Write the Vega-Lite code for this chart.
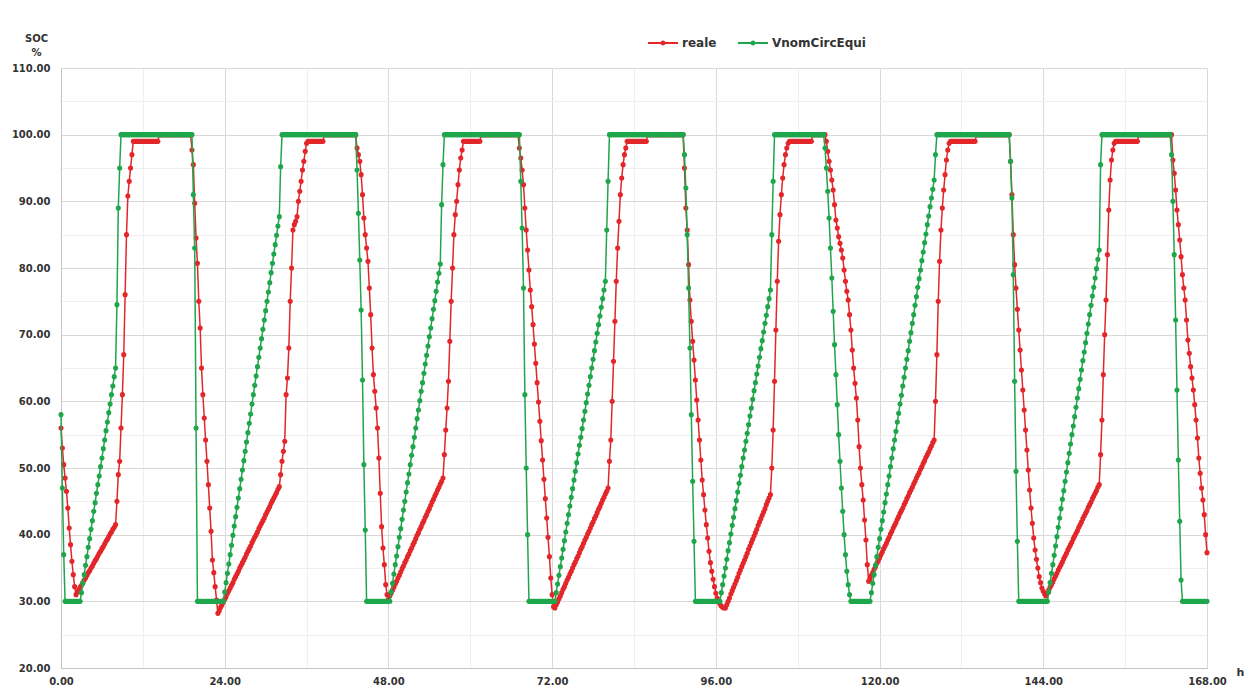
{
"$schema":"https://vega.github.io/schema/vega-lite/v6.json",
"autosize":"none",
"width":1146,"height":600,
"padding":{"left":61,"top":68,"right":45,"bottom":19},
"background":"white",
"config":{"view":{"stroke":null},"font":"DejaVu Sans"},
"data":{"values":[
{"t":0,"r":56,"g":58},{"t":0.2,"r":53,"g":47},{"t":0.4,"r":50.5,"g":37},{"t":0.6,"r":48.5,"g":30},{"t":0.8,"r":46.5,"g":30},{"t":1,"r":44,"g":30},{"t":1.2,"r":41,"g":30},{"t":1.4,"r":38.5,"g":30},{"t":1.6,"r":36,"g":30},{"t":1.8,"r":34,"g":30},{"t":2,"r":32.2,"g":30},{"t":2.2,"r":31,"g":30},{"t":2.4,"r":31.4,"g":30},{"t":2.6,"r":31.7,"g":30},{"t":2.8,"r":32.1,"g":30},
{"t":3,"r":32.4,"g":31.3},{"t":3.2,"r":32.8,"g":32.7},{"t":3.4,"r":33.2,"g":34},{"t":3.6,"r":33.5,"g":35.4},{"t":3.8,"r":33.9,"g":36.7},{"t":4,"r":34.3,"g":38.1},{"t":4.2,"r":34.6,"g":39.4},{"t":4.4,"r":35,"g":40.8},{"t":4.6,"r":35.3,"g":42.1},{"t":4.8,"r":35.7,"g":43.5},{"t":5,"r":36.1,"g":44.8},{"t":5.2,"r":36.4,"g":46.2},{"t":5.4,"r":36.8,"g":47.5},{"t":5.6,"r":37.2,"g":48.8},{"t":5.8,"r":37.5,"g":50.2},{"t":6,"r":37.9,"g":51.5},{"t":6.2,"r":38.2,"g":52.9},{"t":6.4,"r":38.6,"g":54.2},{"t":6.6,"r":39,"g":55.6},{"t":6.8,"r":39.3,"g":56.9},{"t":7,"r":39.7,"g":58.3},{"t":7.2,"r":40.1,"g":59.6},{"t":7.4,"r":40.4,"g":61},{"t":7.6,"r":40.8,"g":62.3},{"t":7.8,"r":41.1,"g":63.7},{"t":8,"r":41.5,"g":65},
{"t":8.2,"r":45,"g":74.5},{"t":8.4,"r":49,"g":89},{"t":8.6,"r":51,"g":95},{"t":8.8,"r":56,"g":100},{"t":9,"r":61,"g":100},{"t":9.2,"r":67,"g":100},{"t":9.4,"r":76,"g":100},{"t":9.6,"r":85,"g":100},{"t":9.8,"r":90.8,"g":100},{"t":10,"r":93,"g":100},{"t":10.2,"r":95,"g":100},{"t":10.4,"r":97,"g":100},
{"t":10.6,"r":99,"g":100},{"t":10.8,"r":99,"g":100},{"t":11,"r":99,"g":100},{"t":11.2,"r":99,"g":100},{"t":11.4,"r":99,"g":100},{"t":11.6,"r":99,"g":100},{"t":11.8,"r":99,"g":100},{"t":12,"r":99,"g":100},{"t":12.2,"r":99,"g":100},{"t":12.4,"r":99,"g":100},{"t":12.6,"r":99,"g":100},{"t":12.8,"r":99,"g":100},{"t":13,"r":99,"g":100},{"t":13.2,"r":99,"g":100},{"t":13.4,"r":99,"g":100},{"t":13.6,"r":99,"g":100},{"t":13.8,"r":99,"g":100},{"t":14,"r":99,"g":100},{"t":14.2,"r":99,"g":100},
{"t":14.4,"r":100,"g":100},{"t":14.6,"r":100,"g":100},{"t":14.8,"r":100,"g":100},{"t":15,"r":100,"g":100},{"t":15.2,"r":100,"g":100},{"t":15.4,"r":100,"g":100},{"t":15.6,"r":100,"g":100},{"t":15.8,"r":100,"g":100},{"t":16,"r":100,"g":100},{"t":16.2,"r":100,"g":100},{"t":16.4,"r":100,"g":100},{"t":16.6,"r":100,"g":100},{"t":16.8,"r":100,"g":100},{"t":17,"r":100,"g":100},{"t":17.2,"r":100,"g":100},{"t":17.4,"r":100,"g":100},{"t":17.6,"r":100,"g":100},{"t":17.8,"r":100,"g":100},{"t":18,"r":100,"g":100},{"t":18.2,"r":100,"g":100},{"t":18.4,"r":100,"g":100},{"t":18.6,"r":100,"g":100},{"t":18.8,"r":100,"g":100},{"t":19,"r":100,"g":100},
{"t":19.2,"r":97.7,"g":100},{"t":19.4,"r":95.5,"g":91},{"t":19.6,"r":89.7,"g":83},{"t":19.8,"r":84.5,"g":56},{"t":20,"r":80.7,"g":30},{"t":20.2,"r":75,"g":30},{"t":20.4,"r":71,"g":30},{"t":20.6,"r":65,"g":30},{"t":20.8,"r":61,"g":30},{"t":21,"r":57.5,"g":30},{"t":21.2,"r":54.2,"g":30},{"t":21.4,"r":51,"g":30},{"t":21.6,"r":47.5,"g":30},{"t":21.8,"r":44,"g":30},{"t":22,"r":40.5,"g":30},{"t":22.2,"r":36.2,"g":30},{"t":22.4,"r":34.3,"g":30},{"t":22.6,"r":32.2,"g":30},{"t":22.8,"r":30.2,"g":30},{"t":23,"r":28.2,"g":30},{"t":23.2,"r":28.6,"g":30},{"t":23.4,"r":29.1,"g":30},{"t":23.6,"r":29.5,"g":30},{"t":23.8,"r":29.9,"g":30},
{"t":24,"r":30.3,"g":31.4},{"t":24.2,"r":30.7,"g":32.8},{"t":24.4,"r":31.2,"g":34.2},{"t":24.6,"r":31.6,"g":35.6},{"t":24.8,"r":32,"g":37},{"t":25,"r":32.4,"g":38.4},{"t":25.2,"r":32.8,"g":39.9},{"t":25.4,"r":33.3,"g":41.3},{"t":25.6,"r":33.7,"g":42.7},{"t":25.8,"r":34.1,"g":44.1},{"t":26,"r":34.5,"g":45.5},{"t":26.2,"r":35,"g":46.9},{"t":26.4,"r":35.4,"g":48.3},{"t":26.6,"r":35.8,"g":49.7},{"t":26.8,"r":36.2,"g":51.1},{"t":27,"r":36.6,"g":52.5},{"t":27.2,"r":37.1,"g":53.9},{"t":27.4,"r":37.5,"g":55.3},{"t":27.6,"r":37.9,"g":56.7},{"t":27.8,"r":38.3,"g":58.1},{"t":28,"r":38.8,"g":59.6},{"t":28.2,"r":39.2,"g":61},{"t":28.4,"r":39.6,"g":62.4},{"t":28.6,"r":40,"g":63.8},{"t":28.8,"r":40.4,"g":65.2},{"t":29,"r":40.9,"g":66.6},{"t":29.2,"r":41.3,"g":68},{"t":29.4,"r":41.7,"g":69.4},{"t":29.6,"r":42.1,"g":70.8},{"t":29.8,"r":42.5,"g":72.2},{"t":30,"r":43,"g":73.6},{"t":30.2,"r":43.4,"g":75},{"t":30.4,"r":43.8,"g":76.4},{"t":30.6,"r":44.2,"g":77.8},{"t":30.8,"r":44.7,"g":79.3},{"t":31,"r":45.1,"g":80.7},{"t":31.2,"r":45.5,"g":82.1},{"t":31.4,"r":45.9,"g":83.5},{"t":31.6,"r":46.3,"g":84.9},{"t":31.8,"r":46.8,"g":86.3},{"t":32,"r":47.2,"g":87.7},
{"t":32.2,"r":49,"g":95.2},{"t":32.4,"r":51,"g":100},{"t":32.6,"r":52.5,"g":100},{"t":32.8,"r":54,"g":100},{"t":33,"r":61,"g":100},{"t":33.2,"r":63.5,"g":100},{"t":33.4,"r":68,"g":100},{"t":33.6,"r":75,"g":100},{"t":33.8,"r":80,"g":100},{"t":34,"r":85.7,"g":100},{"t":34.2,"r":86.5,"g":100},{"t":34.4,"r":87,"g":100},{"t":34.6,"r":87.7,"g":100},{"t":34.8,"r":90,"g":100},{"t":35,"r":91.5,"g":100},{"t":35.2,"r":93,"g":100},{"t":35.4,"r":94.7,"g":100},{"t":35.6,"r":96,"g":100},{"t":35.8,"r":97.5,"g":100},{"t":36,"r":98.7,"g":100},
{"t":36.2,"r":99,"g":100},{"t":36.4,"r":99,"g":100},{"t":36.6,"r":99,"g":100},{"t":36.8,"r":99,"g":100},{"t":37,"r":99,"g":100},{"t":37.2,"r":99,"g":100},{"t":37.4,"r":99,"g":100},{"t":37.6,"r":99,"g":100},{"t":37.8,"r":99,"g":100},{"t":38,"r":99,"g":100},{"t":38.2,"r":99,"g":100},{"t":38.4,"r":99,"g":100},
{"t":38.6,"r":100,"g":100},{"t":38.8,"r":100,"g":100},{"t":39,"r":100,"g":100},{"t":39.2,"r":100,"g":100},{"t":39.4,"r":100,"g":100},{"t":39.6,"r":100,"g":100},{"t":39.8,"r":100,"g":100},{"t":40,"r":100,"g":100},{"t":40.2,"r":100,"g":100},{"t":40.4,"r":100,"g":100},{"t":40.6,"r":100,"g":100},{"t":40.8,"r":100,"g":100},{"t":41,"r":100,"g":100},{"t":41.2,"r":100,"g":100},{"t":41.4,"r":100,"g":100},{"t":41.6,"r":100,"g":100},{"t":41.8,"r":100,"g":100},{"t":42,"r":100,"g":100},{"t":42.2,"r":100,"g":100},{"t":42.4,"r":100,"g":100},{"t":42.6,"r":100,"g":100},{"t":42.8,"r":100,"g":100},{"t":43,"r":100,"g":100},{"t":43.2,"r":100,"g":100},
{"t":43.4,"r":98,"g":94.7},{"t":43.6,"r":97,"g":88.2},{"t":43.8,"r":96,"g":81.2},{"t":44,"r":94,"g":73.7},{"t":44.2,"r":91,"g":63.2},{"t":44.4,"r":87.5,"g":50.5},{"t":44.6,"r":85,"g":40.7},{"t":44.8,"r":83,"g":30},{"t":45,"r":81,"g":30},{"t":45.2,"r":77,"g":30},{"t":45.4,"r":73,"g":30},{"t":45.6,"r":68,"g":30},{"t":45.8,"r":64,"g":30},{"t":46,"r":61.5,"g":30},{"t":46.2,"r":59,"g":30},{"t":46.4,"r":56,"g":30},{"t":46.6,"r":51.5,"g":30},{"t":46.8,"r":46.2,"g":30},{"t":47,"r":41.2,"g":30},{"t":47.2,"r":38,"g":30},{"t":47.4,"r":35.5,"g":30},{"t":47.6,"r":32.5,"g":30},{"t":47.8,"r":31,"g":30},{"t":48,"r":30.3,"g":30},{"t":48.2,"r":30.8,"g":30},
{"t":48.4,"r":31.2,"g":31.4},{"t":48.6,"r":31.7,"g":32.7},{"t":48.8,"r":32.1,"g":34.1},{"t":49,"r":32.6,"g":35.5},{"t":49.2,"r":33,"g":36.8},{"t":49.4,"r":33.5,"g":38.2},{"t":49.6,"r":33.9,"g":39.6},{"t":49.8,"r":34.4,"g":40.9},{"t":50,"r":34.9,"g":42.3},{"t":50.2,"r":35.3,"g":43.7},{"t":50.4,"r":35.8,"g":45},{"t":50.6,"r":36.2,"g":46.4},{"t":50.8,"r":36.7,"g":47.8},{"t":51,"r":37.1,"g":49.1},{"t":51.2,"r":37.6,"g":50.5},{"t":51.4,"r":38,"g":51.9},{"t":51.6,"r":38.5,"g":53.2},{"t":51.8,"r":38.9,"g":54.6},{"t":52,"r":39.4,"g":56},{"t":52.2,"r":39.9,"g":57.4},{"t":52.4,"r":40.3,"g":58.7},{"t":52.6,"r":40.8,"g":60.1},{"t":52.8,"r":41.2,"g":61.5},{"t":53,"r":41.7,"g":62.8},{"t":53.2,"r":42.1,"g":64.2},{"t":53.4,"r":42.6,"g":65.6},{"t":53.6,"r":43,"g":66.9},{"t":53.8,"r":43.5,"g":68.3},{"t":54,"r":43.9,"g":69.7},{"t":54.2,"r":44.4,"g":71},{"t":54.4,"r":44.9,"g":72.4},{"t":54.6,"r":45.3,"g":73.8},{"t":54.8,"r":45.8,"g":75.1},{"t":55,"r":46.2,"g":76.5},{"t":55.2,"r":46.7,"g":77.9},{"t":55.4,"r":47.1,"g":79.2},{"t":55.6,"r":47.6,"g":80.6},{"t":55.8,"r":48,"g":89.5},{"t":56,"r":48.5,"g":95.5},
{"t":56.2,"r":52,"g":100},{"t":56.4,"r":55.7,"g":100},{"t":56.6,"r":59,"g":100},{"t":56.8,"r":63,"g":100},{"t":57,"r":69,"g":100},{"t":57.2,"r":75,"g":100},{"t":57.4,"r":80,"g":100},{"t":57.6,"r":85,"g":100},{"t":57.8,"r":88,"g":100},{"t":58,"r":90,"g":100},{"t":58.2,"r":92.5,"g":100},{"t":58.4,"r":94.7,"g":100},{"t":58.6,"r":96.5,"g":100},{"t":58.8,"r":97.7,"g":100},
{"t":59,"r":99,"g":100},{"t":59.2,"r":99,"g":100},{"t":59.4,"r":99,"g":100},{"t":59.6,"r":99,"g":100},{"t":59.8,"r":99,"g":100},{"t":60,"r":99,"g":100},{"t":60.2,"r":99,"g":100},{"t":60.4,"r":99,"g":100},{"t":60.6,"r":99,"g":100},{"t":60.8,"r":99,"g":100},{"t":61,"r":99,"g":100},{"t":61.2,"r":99,"g":100},{"t":61.4,"r":99,"g":100},
{"t":61.6,"r":100,"g":100},{"t":61.8,"r":100,"g":100},{"t":62,"r":100,"g":100},{"t":62.2,"r":100,"g":100},{"t":62.4,"r":100,"g":100},{"t":62.6,"r":100,"g":100},{"t":62.8,"r":100,"g":100},{"t":63,"r":100,"g":100},{"t":63.2,"r":100,"g":100},{"t":63.4,"r":100,"g":100},{"t":63.6,"r":100,"g":100},{"t":63.8,"r":100,"g":100},{"t":64,"r":100,"g":100},{"t":64.2,"r":100,"g":100},{"t":64.4,"r":100,"g":100},{"t":64.6,"r":100,"g":100},{"t":64.8,"r":100,"g":100},{"t":65,"r":100,"g":100},{"t":65.2,"r":100,"g":100},{"t":65.4,"r":100,"g":100},{"t":65.6,"r":100,"g":100},{"t":65.8,"r":100,"g":100},{"t":66,"r":100,"g":100},{"t":66.2,"r":100,"g":100},{"t":66.4,"r":100,"g":100},{"t":66.6,"r":100,"g":100},{"t":66.8,"r":100,"g":100},{"t":67,"r":100,"g":100},
{"t":67.2,"r":98,"g":100},{"t":67.4,"r":96.5,"g":93},{"t":67.6,"r":94.7,"g":86},{"t":67.8,"r":92.5,"g":77},{"t":68,"r":89,"g":61},{"t":68.2,"r":85.7,"g":50},{"t":68.4,"r":82.7,"g":40},{"t":68.6,"r":79.7,"g":30},{"t":68.8,"r":76.7,"g":30},{"t":69,"r":74.2,"g":30},{"t":69.2,"r":71.5,"g":30},{"t":69.4,"r":68.6,"g":30},{"t":69.6,"r":65.7,"g":30},{"t":69.8,"r":62.8,"g":30},{"t":70,"r":59.9,"g":30},{"t":70.2,"r":57,"g":30},{"t":70.4,"r":54.1,"g":30},{"t":70.6,"r":51.2,"g":30},{"t":70.8,"r":48.3,"g":30},{"t":71,"r":45.4,"g":30},{"t":71.2,"r":42.5,"g":30},{"t":71.4,"r":39.6,"g":30},{"t":71.6,"r":36.7,"g":30},{"t":71.8,"r":33.5,"g":30},{"t":72,"r":31,"g":30},{"t":72.2,"r":29.2,"g":30},{"t":72.4,"r":29,"g":30},
{"t":72.6,"r":29.5,"g":31.3},{"t":72.8,"r":29.9,"g":32.6},{"t":73,"r":30.4,"g":33.9},{"t":73.2,"r":30.8,"g":35.2},{"t":73.4,"r":31.3,"g":36.5},{"t":73.6,"r":31.8,"g":37.8},{"t":73.8,"r":32.2,"g":39.1},{"t":74,"r":32.7,"g":40.4},{"t":74.2,"r":33.2,"g":41.7},{"t":74.4,"r":33.6,"g":43},{"t":74.6,"r":34.1,"g":44.3},{"t":74.8,"r":34.5,"g":45.6},{"t":75,"r":35,"g":46.9},{"t":75.2,"r":35.5,"g":48.2},{"t":75.4,"r":35.9,"g":49.5},{"t":75.6,"r":36.4,"g":50.8},{"t":75.8,"r":36.8,"g":52.1},{"t":76,"r":37.3,"g":53.4},{"t":76.2,"r":37.8,"g":54.6},{"t":76.4,"r":38.2,"g":55.9},{"t":76.6,"r":38.7,"g":57.2},{"t":76.8,"r":39.2,"g":58.5},{"t":77,"r":39.6,"g":59.8},{"t":77.2,"r":40.1,"g":61.1},{"t":77.4,"r":40.5,"g":62.4},{"t":77.6,"r":41,"g":63.7},{"t":77.8,"r":41.5,"g":65},{"t":78,"r":41.9,"g":66.3},{"t":78.2,"r":42.4,"g":67.6},{"t":78.4,"r":42.8,"g":68.9},{"t":78.6,"r":43.3,"g":70.2},{"t":78.8,"r":43.8,"g":71.5},{"t":79,"r":44.2,"g":72.8},{"t":79.2,"r":44.7,"g":74.1},{"t":79.4,"r":45.2,"g":75.4},{"t":79.6,"r":45.6,"g":76.7},{"t":79.8,"r":46.1,"g":78},{"t":80,"r":46.5,"g":85.7},{"t":80.2,"r":47,"g":93},
{"t":80.4,"r":51,"g":100},{"t":80.6,"r":54.2,"g":100},{"t":80.8,"r":60,"g":100},{"t":81,"r":66,"g":100},{"t":81.2,"r":72,"g":100},{"t":81.4,"r":78,"g":100},{"t":81.6,"r":83,"g":100},{"t":81.8,"r":87,"g":100},{"t":82,"r":91,"g":100},{"t":82.2,"r":93.5,"g":100},{"t":82.4,"r":95.5,"g":100},{"t":82.6,"r":97,"g":100},{"t":82.8,"r":98,"g":100},
{"t":83,"r":99,"g":100},{"t":83.2,"r":99,"g":100},{"t":83.4,"r":99,"g":100},{"t":83.6,"r":99,"g":100},{"t":83.8,"r":99,"g":100},{"t":84,"r":99,"g":100},{"t":84.2,"r":99,"g":100},{"t":84.4,"r":99,"g":100},{"t":84.6,"r":99,"g":100},{"t":84.8,"r":99,"g":100},{"t":85,"r":99,"g":100},{"t":85.2,"r":99,"g":100},{"t":85.4,"r":99,"g":100},{"t":85.6,"r":99,"g":100},{"t":85.8,"r":99,"g":100},
{"t":86,"r":100,"g":100},{"t":86.2,"r":100,"g":100},{"t":86.4,"r":100,"g":100},{"t":86.6,"r":100,"g":100},{"t":86.8,"r":100,"g":100},{"t":87,"r":100,"g":100},{"t":87.2,"r":100,"g":100},{"t":87.4,"r":100,"g":100},{"t":87.6,"r":100,"g":100},{"t":87.8,"r":100,"g":100},{"t":88,"r":100,"g":100},{"t":88.2,"r":100,"g":100},{"t":88.4,"r":100,"g":100},{"t":88.6,"r":100,"g":100},{"t":88.8,"r":100,"g":100},{"t":89,"r":100,"g":100},{"t":89.2,"r":100,"g":100},{"t":89.4,"r":100,"g":100},{"t":89.6,"r":100,"g":100},{"t":89.8,"r":100,"g":100},{"t":90,"r":100,"g":100},{"t":90.2,"r":100,"g":100},{"t":90.4,"r":100,"g":100},{"t":90.6,"r":100,"g":100},{"t":90.8,"r":100,"g":100},{"t":91,"r":100,"g":100},{"t":91.2,"r":100,"g":100},
{"t":91.4,"r":95,"g":97},{"t":91.6,"r":89,"g":92},{"t":91.8,"r":85.7,"g":85},{"t":92,"r":80.5,"g":77},{"t":92.2,"r":75.2,"g":68},{"t":92.4,"r":72,"g":58},{"t":92.6,"r":69,"g":48},{"t":92.8,"r":66.2,"g":39},{"t":93,"r":63.2,"g":30},{"t":93.2,"r":60.2,"g":30},{"t":93.4,"r":57.2,"g":30},{"t":93.6,"r":54.2,"g":30},{"t":93.8,"r":51.2,"g":30},{"t":94,"r":48.2,"g":30},{"t":94.2,"r":46,"g":30},{"t":94.4,"r":43.7,"g":30},{"t":94.6,"r":41.5,"g":30},{"t":94.8,"r":39.5,"g":30},{"t":95,"r":37.5,"g":30},{"t":95.2,"r":35.8,"g":30},{"t":95.4,"r":34.5,"g":30},{"t":95.6,"r":33.3,"g":30},{"t":95.8,"r":32.2,"g":30},{"t":96,"r":31.2,"g":30},{"t":96.2,"r":30.5,"g":30},{"t":96.4,"r":30,"g":30},{"t":96.6,"r":29.6,"g":30},
{"t":96.8,"r":29.3,"g":31.3},{"t":97,"r":29.1,"g":32.5},{"t":97.2,"r":29,"g":33.8},{"t":97.4,"r":29,"g":35},{"t":97.6,"r":29.5,"g":36.3},{"t":97.8,"r":30,"g":37.6},{"t":98,"r":30.5,"g":38.8},{"t":98.2,"r":31.1,"g":40.1},{"t":98.4,"r":31.6,"g":41.4},{"t":98.6,"r":32.1,"g":42.6},{"t":98.8,"r":32.6,"g":43.9},{"t":99,"r":33.1,"g":45.1},{"t":99.2,"r":33.6,"g":46.4},{"t":99.4,"r":34.2,"g":47.7},{"t":99.6,"r":34.7,"g":48.9},{"t":99.8,"r":35.2,"g":50.2},{"t":100,"r":35.7,"g":51.5},{"t":100.2,"r":36.2,"g":52.7},{"t":100.4,"r":36.7,"g":54},{"t":100.6,"r":37.2,"g":55.2},{"t":100.8,"r":37.8,"g":56.5},{"t":101,"r":38.3,"g":57.8},{"t":101.2,"r":38.8,"g":59},{"t":101.4,"r":39.3,"g":60.3},{"t":101.6,"r":39.8,"g":61.6},{"t":101.8,"r":40.3,"g":62.8},{"t":102,"r":40.8,"g":64.1},{"t":102.2,"r":41.4,"g":65.3},{"t":102.4,"r":41.9,"g":66.6},{"t":102.6,"r":42.4,"g":67.9},{"t":102.8,"r":42.9,"g":69.1},{"t":103,"r":43.4,"g":70.4},{"t":103.2,"r":43.9,"g":71.7},{"t":103.4,"r":44.5,"g":72.9},{"t":103.6,"r":45,"g":74.2},{"t":103.8,"r":45.5,"g":75.4},{"t":104,"r":46,"g":76.7},
{"t":104.2,"r":50,"g":85},{"t":104.4,"r":55.7,"g":93},{"t":104.6,"r":63,"g":100},{"t":104.8,"r":70.7,"g":100},{"t":105,"r":78,"g":100},{"t":105.2,"r":84,"g":100},{"t":105.4,"r":88,"g":100},{"t":105.6,"r":91,"g":100},{"t":105.8,"r":93.5,"g":100},{"t":106,"r":95.5,"g":100},{"t":106.2,"r":97,"g":100},{"t":106.4,"r":98,"g":100},{"t":106.6,"r":98.7,"g":100},
{"t":106.8,"r":99,"g":100},{"t":107,"r":99,"g":100},{"t":107.2,"r":99,"g":100},{"t":107.4,"r":99,"g":100},{"t":107.6,"r":99,"g":100},{"t":107.8,"r":99,"g":100},{"t":108,"r":99,"g":100},{"t":108.2,"r":99,"g":100},{"t":108.4,"r":99,"g":100},{"t":108.6,"r":99,"g":100},{"t":108.8,"r":99,"g":100},{"t":109,"r":99,"g":100},{"t":109.2,"r":99,"g":100},{"t":109.4,"r":99,"g":100},{"t":109.6,"r":99,"g":100},{"t":109.8,"r":99,"g":100},{"t":110,"r":99,"g":100},
{"t":110.2,"r":100,"g":100},{"t":110.4,"r":100,"g":100},{"t":110.6,"r":100,"g":100},{"t":110.8,"r":100,"g":100},{"t":111,"r":100,"g":100},{"t":111.2,"r":100,"g":100},{"t":111.4,"r":100,"g":100},{"t":111.6,"r":100,"g":100},{"t":111.8,"r":100,"g":100},
{"t":112,"r":100,"g":98},{"t":112.2,"r":99,"g":95},{"t":112.4,"r":97.5,"g":91.5},{"t":112.6,"r":96,"g":87.5},{"t":112.8,"r":94.7,"g":83},{"t":113,"r":93.2,"g":78.5},{"t":113.2,"r":91.7,"g":73.5},{"t":113.4,"r":89.5,"g":68.5},{"t":113.6,"r":87.2,"g":64},{"t":113.8,"r":86,"g":59.5},{"t":114,"r":84.7,"g":55},{"t":114.2,"r":83.7,"g":51},{"t":114.4,"r":82.7,"g":47},{"t":114.6,"r":81.5,"g":43.5},{"t":114.8,"r":79.7,"g":40},{"t":115,"r":78,"g":37},{"t":115.2,"r":76.5,"g":34.5},{"t":115.4,"r":75.2,"g":32.5},{"t":115.6,"r":73,"g":31},{"t":115.8,"r":70.7,"g":30},{"t":116,"r":67.7,"g":30},{"t":116.2,"r":65,"g":30},{"t":116.4,"r":62.7,"g":30},{"t":116.6,"r":60.5,"g":30},{"t":116.8,"r":57.2,"g":30},{"t":117,"r":53.2,"g":30},{"t":117.2,"r":50,"g":30},{"t":117.4,"r":47.5,"g":30},{"t":117.6,"r":45.2,"g":30},{"t":117.8,"r":42.2,"g":30},{"t":118,"r":39.2,"g":30},{"t":118.2,"r":35.5,"g":30},{"t":118.4,"r":33,"g":30},{"t":118.6,"r":33.4,"g":30},
{"t":118.8,"r":33.9,"g":31.3},{"t":119,"r":34.3,"g":32.7},{"t":119.2,"r":34.8,"g":34},{"t":119.4,"r":35.2,"g":35.4},{"t":119.6,"r":35.7,"g":36.7},{"t":119.8,"r":36.1,"g":38.1},{"t":120,"r":36.5,"g":39.4},{"t":120.2,"r":37,"g":40.8},{"t":120.4,"r":37.4,"g":42.1},{"t":120.6,"r":37.9,"g":43.4},{"t":120.8,"r":38.3,"g":44.8},{"t":121,"r":38.7,"g":46.1},{"t":121.2,"r":39.2,"g":47.5},{"t":121.4,"r":39.6,"g":48.8},{"t":121.6,"r":40.1,"g":50.2},{"t":121.8,"r":40.5,"g":51.5},{"t":122,"r":41,"g":52.9},{"t":122.2,"r":41.4,"g":54.2},{"t":122.4,"r":41.8,"g":55.5},{"t":122.6,"r":42.3,"g":56.9},{"t":122.8,"r":42.7,"g":58.2},{"t":123,"r":43.2,"g":59.6},{"t":123.2,"r":43.6,"g":60.9},{"t":123.4,"r":44,"g":62.3},{"t":123.6,"r":44.5,"g":63.6},{"t":123.8,"r":44.9,"g":65},{"t":124,"r":45.4,"g":66.3},{"t":124.2,"r":45.8,"g":67.6},{"t":124.4,"r":46.3,"g":69},{"t":124.6,"r":46.7,"g":70.3},{"t":124.8,"r":47.1,"g":71.7},{"t":125,"r":47.6,"g":73},{"t":125.2,"r":48,"g":74.4},{"t":125.4,"r":48.5,"g":75.7},{"t":125.6,"r":48.9,"g":77.1},{"t":125.8,"r":49.3,"g":78.4},{"t":126,"r":49.8,"g":79.7},{"t":126.2,"r":50.2,"g":81.1},{"t":126.4,"r":50.7,"g":82.4},{"t":126.6,"r":51.1,"g":83.8},{"t":126.8,"r":51.6,"g":85.1},{"t":127,"r":52,"g":86.5},{"t":127.2,"r":52.4,"g":87.8},{"t":127.4,"r":52.9,"g":89.2},{"t":127.6,"r":53.3,"g":90.5},{"t":127.8,"r":53.8,"g":91.8},{"t":128,"r":54.2,"g":93.2},
{"t":128.2,"r":60,"g":97},{"t":128.4,"r":67,"g":100},{"t":128.6,"r":75,"g":100},{"t":128.8,"r":81,"g":100},{"t":129,"r":85.7,"g":100},{"t":129.2,"r":89,"g":100},{"t":129.4,"r":91.7,"g":100},{"t":129.6,"r":94,"g":100},{"t":129.8,"r":96.2,"g":100},{"t":130,"r":97.7,"g":100},{"t":130.2,"r":98.7,"g":100},
{"t":130.4,"r":99,"g":100},{"t":130.6,"r":99,"g":100},{"t":130.8,"r":99,"g":100},{"t":131,"r":99,"g":100},{"t":131.2,"r":99,"g":100},{"t":131.4,"r":99,"g":100},{"t":131.6,"r":99,"g":100},{"t":131.8,"r":99,"g":100},{"t":132,"r":99,"g":100},{"t":132.2,"r":99,"g":100},{"t":132.4,"r":99,"g":100},{"t":132.6,"r":99,"g":100},{"t":132.8,"r":99,"g":100},{"t":133,"r":99,"g":100},{"t":133.2,"r":99,"g":100},{"t":133.4,"r":99,"g":100},{"t":133.6,"r":99,"g":100},{"t":133.8,"r":99,"g":100},{"t":134,"r":99,"g":100},
{"t":134.2,"r":100,"g":100},{"t":134.4,"r":100,"g":100},{"t":134.6,"r":100,"g":100},{"t":134.8,"r":100,"g":100},{"t":135,"r":100,"g":100},{"t":135.2,"r":100,"g":100},{"t":135.4,"r":100,"g":100},{"t":135.6,"r":100,"g":100},{"t":135.8,"r":100,"g":100},{"t":136,"r":100,"g":100},{"t":136.2,"r":100,"g":100},{"t":136.4,"r":100,"g":100},{"t":136.6,"r":100,"g":100},{"t":136.8,"r":100,"g":100},{"t":137,"r":100,"g":100},{"t":137.2,"r":100,"g":100},{"t":137.4,"r":100,"g":100},{"t":137.6,"r":100,"g":100},{"t":137.8,"r":100,"g":100},{"t":138,"r":100,"g":100},{"t":138.2,"r":100,"g":100},{"t":138.4,"r":100,"g":100},{"t":138.6,"r":100,"g":100},{"t":138.8,"r":100,"g":100},{"t":139,"r":100,"g":100},
{"t":139.2,"r":96,"g":96},{"t":139.4,"r":91,"g":90.5},{"t":139.6,"r":85,"g":79},{"t":139.8,"r":80.5,"g":63},{"t":140,"r":77,"g":49.5},{"t":140.2,"r":73.8,"g":39},{"t":140.4,"r":70.7,"g":30},{"t":140.6,"r":67.7,"g":30},{"t":140.8,"r":64.7,"g":30},{"t":141,"r":61.7,"g":30},{"t":141.2,"r":58.7,"g":30},{"t":141.4,"r":55.7,"g":30},{"t":141.6,"r":52.7,"g":30},{"t":141.8,"r":49.7,"g":30},{"t":142,"r":46.7,"g":30},{"t":142.2,"r":44,"g":30},{"t":142.4,"r":41.7,"g":30},{"t":142.6,"r":39.5,"g":30},{"t":142.8,"r":37.7,"g":30},{"t":143,"r":36.3,"g":30},{"t":143.2,"r":35,"g":30},{"t":143.4,"r":33.7,"g":30},{"t":143.6,"r":32.8,"g":30},{"t":143.8,"r":32,"g":30},{"t":144,"r":31.5,"g":30},{"t":144.2,"r":31.1,"g":30},{"t":144.4,"r":30.8,"g":30},{"t":144.6,"r":31.2,"g":30},
{"t":144.8,"r":31.7,"g":31.4},{"t":145,"r":32.1,"g":32.8},{"t":145.2,"r":32.5,"g":34.2},{"t":145.4,"r":32.9,"g":35.5},{"t":145.6,"r":33.4,"g":36.9},{"t":145.8,"r":33.8,"g":38.3},{"t":146,"r":34.2,"g":39.7},{"t":146.2,"r":34.7,"g":41.1},{"t":146.4,"r":35.1,"g":42.5},{"t":146.6,"r":35.5,"g":43.9},{"t":146.8,"r":35.9,"g":45.3},{"t":147,"r":36.4,"g":46.6},{"t":147.2,"r":36.8,"g":48},{"t":147.4,"r":37.2,"g":49.4},{"t":147.6,"r":37.7,"g":50.8},{"t":147.8,"r":38.1,"g":52.2},{"t":148,"r":38.5,"g":53.6},{"t":148.2,"r":38.9,"g":55},{"t":148.4,"r":39.4,"g":56.3},{"t":148.6,"r":39.8,"g":57.7},{"t":148.8,"r":40.2,"g":59.1},{"t":149,"r":40.6,"g":60.5},{"t":149.2,"r":41.1,"g":61.9},{"t":149.4,"r":41.5,"g":63.3},{"t":149.6,"r":41.9,"g":64.7},{"t":149.8,"r":42.4,"g":66.1},{"t":150,"r":42.8,"g":67.4},{"t":150.2,"r":43.2,"g":68.8},{"t":150.4,"r":43.6,"g":70.2},{"t":150.6,"r":44.1,"g":71.6},{"t":150.8,"r":44.5,"g":73},{"t":151,"r":44.9,"g":74.4},{"t":151.2,"r":45.4,"g":75.8},{"t":151.4,"r":45.8,"g":77.1},{"t":151.6,"r":46.2,"g":78.5},{"t":151.8,"r":46.6,"g":79.9},{"t":152,"r":47.1,"g":81.3},{"t":152.2,"r":47.5,"g":82.7},
{"t":152.4,"r":52,"g":95.5},{"t":152.6,"r":57.2,"g":100},{"t":152.8,"r":64,"g":100},{"t":153,"r":70,"g":100},{"t":153.2,"r":75.2,"g":100},{"t":153.4,"r":82,"g":100},{"t":153.6,"r":88.7,"g":100},{"t":153.8,"r":93.2,"g":100},{"t":154,"r":96.2,"g":100},{"t":154.2,"r":97.7,"g":100},{"t":154.4,"r":98.7,"g":100},
{"t":154.6,"r":99,"g":100},{"t":154.8,"r":99,"g":100},{"t":155,"r":99,"g":100},{"t":155.2,"r":99,"g":100},{"t":155.4,"r":99,"g":100},{"t":155.6,"r":99,"g":100},{"t":155.8,"r":99,"g":100},{"t":156,"r":99,"g":100},{"t":156.2,"r":99,"g":100},{"t":156.4,"r":99,"g":100},{"t":156.6,"r":99,"g":100},{"t":156.8,"r":99,"g":100},{"t":157,"r":99,"g":100},{"t":157.2,"r":99,"g":100},{"t":157.4,"r":99,"g":100},{"t":157.6,"r":99,"g":100},{"t":157.8,"r":99,"g":100},
{"t":158,"r":100,"g":100},{"t":158.2,"r":100,"g":100},{"t":158.4,"r":100,"g":100},{"t":158.6,"r":100,"g":100},{"t":158.8,"r":100,"g":100},{"t":159,"r":100,"g":100},{"t":159.2,"r":100,"g":100},{"t":159.4,"r":100,"g":100},{"t":159.6,"r":100,"g":100},{"t":159.8,"r":100,"g":100},{"t":160,"r":100,"g":100},{"t":160.2,"r":100,"g":100},{"t":160.4,"r":100,"g":100},{"t":160.6,"r":100,"g":100},{"t":160.8,"r":100,"g":100},{"t":161,"r":100,"g":100},{"t":161.2,"r":100,"g":100},{"t":161.4,"r":100,"g":100},{"t":161.6,"r":100,"g":100},{"t":161.8,"r":100,"g":100},{"t":162,"r":100,"g":100},{"t":162.2,"r":100,"g":100},{"t":162.4,"r":100,"g":100},{"t":162.6,"r":100,"g":100},
{"t":162.8,"r":100,"g":97},{"t":163,"r":96.2,"g":90},{"t":163.2,"r":94.2,"g":82},{"t":163.4,"r":91.7,"g":72.2},{"t":163.6,"r":88.7,"g":61.7},{"t":163.8,"r":86.5,"g":51.2},{"t":164,"r":84.2,"g":42},{"t":164.2,"r":81.7,"g":33.2},{"t":164.4,"r":79,"g":30},{"t":164.6,"r":77,"g":30},{"t":164.8,"r":75.2,"g":30},{"t":165,"r":72.2,"g":30},{"t":165.2,"r":69.2,"g":30},{"t":165.4,"r":67.2,"g":30},{"t":165.6,"r":65.2,"g":30},{"t":165.8,"r":63.5,"g":30},{"t":166,"r":61.7,"g":30},{"t":166.2,"r":59.5,"g":30},{"t":166.4,"r":57.2,"g":30},{"t":166.6,"r":54.5,"g":30},{"t":166.8,"r":51.5,"g":30},{"t":167,"r":49.2,"g":30},{"t":167.2,"r":47,"g":30},{"t":167.4,"r":45.2,"g":30},{"t":167.6,"r":43,"g":30},{"t":167.8,"r":40,"g":30},{"t":168,"r":37.3,"g":30}
]},
"encoding":{
"x":{"field":"t","type":"quantitative","scale":{"domain":[0,168],"nice":false,"zero":false},
"axis":{"values":[0,12,24,36,48,60,72,84,96,108,120,132,144,156,168],
"labelExpr":"datum.value % 24 === 0 ? format(datum.value, '.2f') : ''",
"gridColor":{"condition":{"test":"datum.value % 24 === 0","value":"#d9d9d9"},"value":"#efefef"},
"ticks":false,"domainColor":"#c4c4c4","labelOverlap":false,"labelFlush":false,
"labelFont":"DejaVu Sans","labelFontWeight":"bold","labelFontSize":10,"labelColor":"#333333","labelPadding":8,
"title":"h","titleX":1179,"titleY":4,"titleAlign":"center","titleBaseline":"middle","titleFont":"DejaVu Sans","titleFontSize":11,"titleFontWeight":"bold","titleColor":"#333333"}}
},
"layer":[
{"mark":{"type":"line","strokeWidth":1.5,"point":{"filled":true,"size":26}},
"encoding":{
"y":{"field":"r","type":"quantitative","scale":{"domain":[20,110],"nice":false,"zero":false},
"axis":{"values":[20,25,30,35,40,45,50,55,60,65,70,75,80,85,90,95,100,105,110],
"labelExpr":"datum.value % 10 === 0 ? format(datum.value, '.2f') : ''",
"gridColor":{"condition":{"test":"datum.value % 10 === 0","value":"#d9d9d9"},"value":"#efefef"},
"ticks":false,"domainColor":"#c4c4c4","labelOverlap":false,"labelFlush":false,
"labelFont":"DejaVu Sans","labelFontWeight":"bold","labelFontSize":10,"labelColor":"#333333","labelPadding":11,
"title":["SOC","%"],"titleAngle":0,"titleX":-25,"titleY":-35,"titleAlign":"center","titleBaseline":"top","titleLineHeight":14,"titleFont":"DejaVu Sans","titleFontSize":10,"titleFontWeight":"bold","titleColor":"#333333"}},
"color":{"datum":"reale","type":"nominal","scale":{"domain":["reale","VnomCircEqui"],"range":["#e2262a","#1fa64c"]},
"legend":{"orient":"none","legendX":586,"legendY":-41,"direction":"horizontal","title":null,
"symbolType":"M-1,0H1M-0.1,0A0.1,0.1,0,1,1,0.1,0A0.1,0.1,0,1,1,-0.1,0Z","symbolSize":900,"symbolStrokeWidth":2,
"labelFont":"DejaVu Sans","labelFontWeight":"bold","labelFontSize":12,"labelColor":"#333333","labelOffset":3,"columnPadding":17}}}},
{"mark":{"type":"line","strokeWidth":1.5,"point":{"filled":true,"size":26}},
"encoding":{
"y":{"field":"g","type":"quantitative","scale":{"domain":[20,110],"nice":false,"zero":false},
"axis":{"values":[20,25,30,35,40,45,50,55,60,65,70,75,80,85,90,95,100,105,110],
"labelExpr":"datum.value % 10 === 0 ? format(datum.value, '.2f') : ''",
"gridColor":{"condition":{"test":"datum.value % 10 === 0","value":"#d9d9d9"},"value":"#efefef"},
"ticks":false,"domainColor":"#c4c4c4","labelOverlap":false,"labelFlush":false,
"labelFont":"DejaVu Sans","labelFontWeight":"bold","labelFontSize":10,"labelColor":"#333333","labelPadding":11,
"title":["SOC","%"],"titleAngle":0,"titleX":-25,"titleY":-35,"titleAlign":"center","titleBaseline":"top","titleLineHeight":14,"titleFont":"DejaVu Sans","titleFontSize":10,"titleFontWeight":"bold","titleColor":"#333333"}},
"color":{"datum":"VnomCircEqui","type":"nominal"}}}
]
}
